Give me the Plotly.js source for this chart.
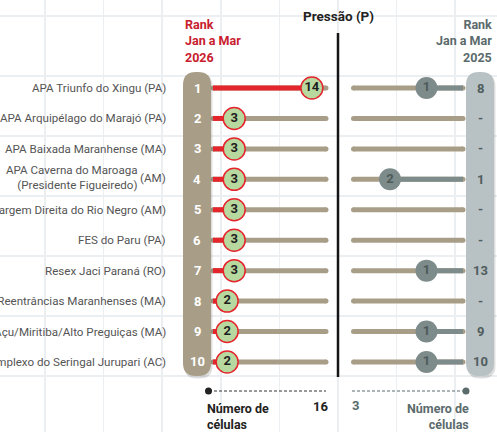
<!DOCTYPE html>
<html>
<head>
<meta charset="utf-8">
<script src="https://cdn.plot.ly/plotly-3.0.1.min.js"></script>
<style>
  html, body { margin: 0; padding: 0; background: #fff; }
  #chart { width: 497px; height: 432px; }
</style>
</head>
<body>
<div id="chart"></div>
<script>
// dados
var names = [
  "APA Triunfo do Xingu",
  "APA Arquipélago do Marajó",
  "APA Baixada Maranhense",
  "APA Caverna do Maroaga<br>(Presidente Figueiredo)",
  "APA Margem Direita do Rio Negro",
  "FES do Paru",
  "Resex Jaci Paraná",
  "APA das Reentrâncias Maranhenses",
  "APA Upaon-Açu/Miritiba/Alto Preguiças",
  "Resex Complexo do Seringal Jurupari"
];
var states = ["PA", "PA", "MA", "AM", "AM", "PA", "RO", "MA", "MA", "AC"];
var rank2026 = ["1", "2", "3", "4", "5", "6", "7", "8", "9", "10"];
var cells2026 = [14, 3, 3, 3, 3, 3, 3, 2, 2, 2];
var rank2025 = ["8", "-", "-", "1", "-", "-", "13", "-", "9", "10"];
var cells2025 = [1, null, null, 2, null, null, 1, null, 1, 1];
var maxLeft = 16;
var maxRight = 3;

var W = 497, H = 432;
var tan = "#a89e88", red = "#e4252c", green = "#b7d89f", slate = "#7e8b8b";
var font = "Roboto, 'Noto Sans', sans-serif";

// pixel helpers (layout only)
var lx0 = 213, lsc = 7.0625;   // left panel: px of 0, px per cell
var rx0 = 463, rsc = 36.5;     // right panel (reversed)
var ry0 = 88, rstep = 30.44;   // rows
function px(x) { return x / W; }
function py(y) { return 1 - y / H; }

function pill(x0, x1, y0, y1, r) {
  var a = px(x0), b = px(x1), c = py(y0), d = py(y1);
  var rx = r / W, ry = r / H;
  return "M" + a + "," + (c - ry) +
    " Q" + a + "," + c + " " + (a + rx) + "," + c +
    " L" + (b - rx) + "," + c +
    " Q" + b + "," + c + " " + b + "," + (c - ry) +
    " L" + b + "," + (d + ry) +
    " Q" + b + "," + d + " " + (b - rx) + "," + d +
    " L" + (a + rx) + "," + d +
    " Q" + a + "," + d + " " + a + "," + (d + ry) + " Z";
}

var rows = names.map(function (n, i) { return i; });

// tracks
var lTrackX = [], lTrackY = [], rTrackX = [], rTrackY = [];
rows.forEach(function (i) {
  lTrackX.push(0, maxLeft, null); lTrackY.push(i, i, null);
  rTrackX.push(maxRight, 0, null); rTrackY.push(i, i, null);
});
var lValX = [], lValY = [], rValX = [], rValY = [];
rows.forEach(function (i) {
  lValX.push(0, cells2026[i], null); lValY.push(i, i, null);
  if (cells2025[i] !== null) { rValX.push(0, cells2025[i], null); rValY.push(i, i, null); }
});
var rPtX = [], rPtY = [];
rows.forEach(function (i) {
  if (cells2025[i] !== null) { rPtX.push(cells2025[i]); rPtY.push(i); }
});

var data = [
  { x: lTrackX, y: lTrackY, mode: "lines+markers", line: { color: tan, width: 5 },
    marker: { size: 5, color: tan }, hoverinfo: "skip", showlegend: false },
  { x: rTrackX, y: rTrackY, xaxis: "x2", mode: "lines+markers", line: { color: tan, width: 5 },
    marker: { size: 5, color: tan }, hoverinfo: "skip", showlegend: false },
  { x: lValX, y: lValY, mode: "lines", line: { color: red, width: 5 }, showlegend: false },
  { x: rValX, y: rValY, xaxis: "x2", mode: "lines", line: { color: slate, width: 5 }, showlegend: false },
  { x: cells2026, y: rows, mode: "markers+text", text: cells2026.map(String),
    textposition: "middle center",
    textfont: { family: font, size: 13, color: "#1e1e1e", weight: 700 },
    marker: { size: 22, color: green, line: { color: red, width: 1.5 } }, showlegend: false },
  { x: rPtX, y: rPtY, xaxis: "x2", mode: "markers+text", text: rPtX.map(String),
    textposition: "middle center",
    textfont: { family: font, size: 13, color: "#4d5a5a", weight: 700 },
    marker: { size: 22, color: slate }, showlegend: false }
];

var labelFont = { family: font, size: 11.6, color: "#555" };
var annotations = [];
rows.forEach(function (i) {
  if (names[i].indexOf("<br>") >= 0) {
    annotations.push({ x: px(140), y: i, xref: "paper", yref: "y", yshift: 2, text: names[i],
      xanchor: "right", yanchor: "middle", align: "right", showarrow: false, font: labelFont });
    annotations.push({ x: px(168), y: i, yshift: 1, xref: "paper", yref: "y", text: "(" + states[i] + ")",
      xanchor: "right", yanchor: "middle", showarrow: false, font: labelFont });
  } else {
    annotations.push({ x: px(168), y: i, xref: "paper", yref: "y",
      text: names[i] + " (" + states[i] + ")", xanchor: "right", yanchor: "middle",
      showarrow: false, font: labelFont });
  }
  annotations.push({ x: px(197), y: i, xref: "paper", yref: "y", text: rank2026[i],
    xanchor: "center", yanchor: "middle", showarrow: false,
    font: { family: font, size: 13, color: "#fff", weight: 700 } });
  annotations.push({ x: px(480), y: i, xref: "paper", yref: "y", text: rank2025[i],
    xanchor: "center", yanchor: "middle", showarrow: false,
    font: { family: font, size: 13, color: "#4f5d5e", weight: 700 } });
});

annotations.push(
  { x: px(183), y: py(41), xref: "paper", yref: "paper", xanchor: "left", yanchor: "middle", align: "left",
    text: "Rank<br>Jan a Mar<br>2026", showarrow: false,
    font: { family: font, size: 12.5, color: "#c8202e", weight: 700 } },
  { x: px(494), y: py(41.5), xref: "paper", yref: "paper", xanchor: "right", yanchor: "middle", align: "right",
    text: "Rank<br>Jan a Mar<br>2025", showarrow: false,
    font: { family: font, size: 12.5, color: "#5b6b6c", weight: 700 } },
  { x: px(338), y: py(16), xref: "paper", yref: "paper", xanchor: "center", yanchor: "middle",
    text: "Pressão (P)", showarrow: false,
    font: { family: font, size: 13.5, color: "#222", weight: 700 } },
  { x: px(205), y: py(416), xref: "paper", yref: "paper", xanchor: "left", yanchor: "middle", align: "left",
    text: "Número de<br>células", showarrow: false,
    font: { family: font, size: 12.5, color: "#222", weight: 700 } },
  { x: px(471), y: py(416), xref: "paper", yref: "paper", xanchor: "right", yanchor: "middle", align: "right",
    text: "Número de<br>células", showarrow: false,
    font: { family: font, size: 12.5, color: "#5b6b6c", weight: 700 } },
  { x: maxLeft, xshift: -6, y: py(406), xref: "x", yref: "paper", xanchor: "center", yanchor: "middle",
    text: String(maxLeft), showarrow: false, font: { family: font, size: 13, color: "#222", weight: 700 } },
  { x: maxRight, xshift: 2, y: py(405), xref: "x2", yref: "paper", xanchor: "center", yanchor: "middle",
    text: String(maxRight), showarrow: false, font: { family: font, size: 13, color: "#5b6b6c", weight: 700 } }
);

var shapes = [
  // pills with soft shadow
  { type: "path", path: pill(184, 212.5, 73.5, 378.5, 13), xref: "paper", yref: "paper",
    fillcolor: "rgba(0,0,0,0.13)", line: { width: 0 }, layer: "above" },
  { type: "path", path: pill(183, 211, 72, 376, 13), xref: "paper", yref: "paper",
    fillcolor: tan, line: { width: 0 }, layer: "above" },
  { type: "path", path: pill(467, 495.5, 73.5, 378.5, 13), xref: "paper", yref: "paper",
    fillcolor: "rgba(0,0,0,0.13)", line: { width: 0 }, layer: "above" },
  { type: "path", path: pill(466, 494, 72, 376, 13), xref: "paper", yref: "paper",
    fillcolor: "#b8c1c3", line: { width: 0 }, layer: "above" },
  // divider
  { type: "line", x0: px(338), x1: px(338), y0: py(33), y1: py(377), xref: "paper", yref: "paper",
    line: { color: "#151515", width: 2.5 } },
  // bottom scales
  { type: "line", x0: px(209), x1: px(326), y0: py(391), y1: py(391), xref: "paper", yref: "paper",
    line: { color: "#333", width: 1, dash: "3px,2px" } },
  { type: "circle", x0: px(205), x1: px(212), y0: py(387.5), y1: py(394.5), xref: "paper", yref: "paper",
    fillcolor: "#222", line: { width: 0 } },
  { type: "line", x0: px(352), x1: px(466), y0: py(391), y1: py(391), xref: "paper", yref: "paper",
    line: { color: "#5b6b6c", width: 1, dash: "3px,2px" } },
  { type: "circle", x0: px(462.5), x1: px(469.5), y0: py(387.5), y1: py(394.5), xref: "paper", yref: "paper",
    fillcolor: "#5b6b6c", line: { width: 0 } }
];

var layout = {
  width: W, height: H,
  margin: { l: 0, r: 0, t: 0, b: 0 },
  paper_bgcolor: "#fff", plot_bgcolor: "#fff",
  showlegend: false,
  xaxis: {
    range: [(0 - lx0) / lsc, (W - lx0) / lsc],
    showgrid: true, gridcolor: "#eceff2", gridwidth: 1.5,
    tick0: (45 - lx0) / lsc, dtick: 58.6 / lsc,
    zeroline: false, showticklabels: false, ticks: "", fixedrange: true
  },
  xaxis2: {
    overlaying: "x", range: [rx0 / rsc, (rx0 - W) / rsc],
    showgrid: false, zeroline: false, showticklabels: false, ticks: "", fixedrange: true
  },
  yaxis: {
    range: [(H - ry0) / rstep, -ry0 / rstep],
    showgrid: true, gridcolor: "#eceff2", gridwidth: 1.5,
    tick0: (16 - ry0) / rstep, dtick: 60 / rstep,
    zeroline: false, showticklabels: false, ticks: "", fixedrange: true
  },
  shapes: shapes,
  annotations: annotations
};

Plotly.newPlot("chart", data, layout, { displayModeBar: false, staticPlot: true });
</script>
</body>
</html>
